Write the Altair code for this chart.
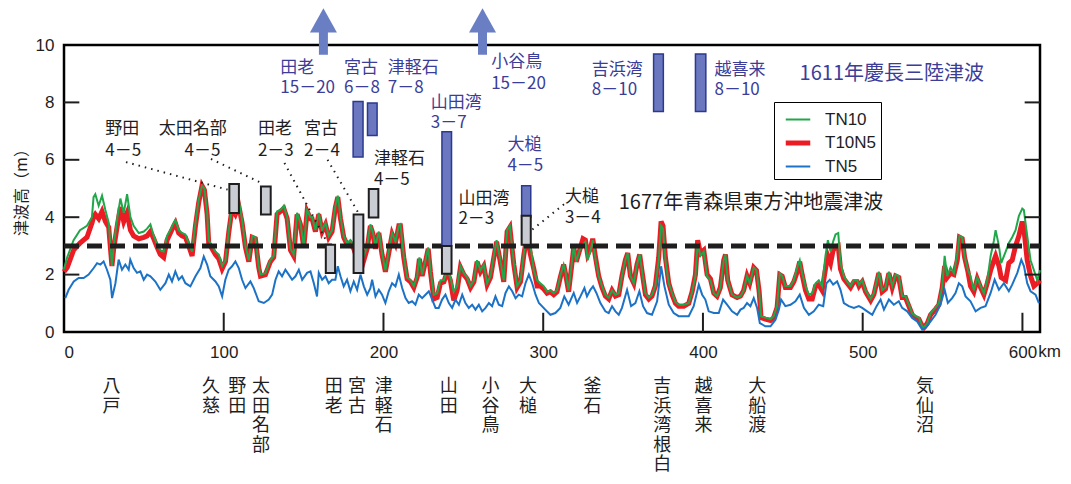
import altair as alt
import pandas as pd

# ---------------- data ----------------
km_grid = [0, 2, 6, 10, 14.4, 17.5, 18.5, 19.6, 21.7, 23.8, 25.9, 28, 30, 31.1, 33.2, 35.3, 37.4, 39.5, 41.6, 43.6,
           46.8, 50, 52, 54.1, 56.2, 58.3, 60.3, 62.4, 64.5, 66.6, 68.7, 69.7, 71.8, 73.9, 76, 78.1, 80.2, 82.3, 84.3, 86.4,
           87.9, 89.6, 90.6, 92.7, 94.8, 96.9, 99, 101.1, 103.2, 105.2, 107.3, 109.4, 111.5, 113.6, 115.7, 117.8, 119.8, 121.9, 123, 126.1,
           129.2, 131.3, 133.4, 135.5, 137.6, 139.7, 141.8, 143.8, 145.9, 148, 150.1, 152.2, 154.3,
           155.3, 157.4, 159.5, 161.6, 163.7, 165.7, 167.8, 169.9, 171.4, 173.1, 175.1, 177.2, 179.3, 181.4, 183.5,
           185.6, 187.7, 189.8, 191.8, 193.5, 195, 197.1, 199.1, 201.2, 203.3, 205.4, 207.5, 209.6, 210.6, 212.7,
           214.8, 216.9, 219, 221.1, 222.5, 224.2, 226.3, 228, 229.4, 231.5, 233.6, 235.7, 237.8, 239.9, 241.9,
           244, 246.1, 248.2, 250.3, 252.4, 254.5, 256.6, 258.6, 260.7, 262.8, 264.9, 267, 269.1, 270.8, 272.8,
           275.3, 277.4, 279.1, 281.6, 283.7, 285.8, 287.9, 290, 292, 294.1, 296.2,
           298.2, 300.3, 302.4, 304.5, 306.6, 308.6, 310.7, 312.8, 313.9, 315.9, 318, 319.1, 320.7, 322.8, 324.9,
           326.4, 327.8, 329.5, 331, 332.6, 334.7, 336.8, 338.9, 341, 343.1, 345.2, 347.3, 349.3, 351.4, 352.9,
           354.6, 356.7, 358.7, 360.4, 361.9, 364, 366.1, 368.1, 370.2, 372.3, 373.8, 375, 376.5, 378.6, 380.7,
           382.8, 384.8, 388, 391.1, 393.2, 395.3, 396.7, 398.4, 400.5, 402.6, 404.7, 406.8, 408.8, 410.9, 413,
           414.1, 415.5, 418.2, 421.4, 423.5, 425.5, 427.6, 429.3, 431.8, 433.5, 435.2, 436.4, 439.1, 442.3, 444.3,
           446.4, 448.1, 449.6, 451.6,
           454.8, 456.9, 459, 460.6, 462.1, 464.2, 466.3, 468.4, 470.5, 472.5, 474.6, 476.7, 478.2, 479.9, 481.5,
           483, 484.7, 486.1, 488.2, 490.3, 492.4, 494.5, 496.6, 497.7, 499.7, 501.8, 505, 507, 510.1, 512.2,
           514.3, 516.4, 518.5, 520.6, 522.6, 524.7, 526.8, 528.9, 531, 533.1, 535.2, 537.3, 538.3, 540.4, 542.5,
           545.6, 547.7, 549.8, 551.3, 552.9, 555, 557.1, 559.2, 560.6, 562.3, 563.8, 565.9, 567.5, 569.6, 571.7,
           573.8, 575.9, 578, 580.1, 582.2, 583.2, 585.3, 586.7, 589.5, 591.5, 593.6, 595.7, 597.8, 599.9, 600.9,
           603, 605.1, 607.2, 609.3, 611]

tn10 = [2.2, 2.6, 3.2, 3.55, 3.7, 4.0, 4.7, 4.8, 4.4, 4.75, 4.25, 3.8, 2.3, 3.0, 3.9, 4.65, 4.15, 4.8, 4.0, 3.7,
        3.45, 3.5, 3.6, 3.75, 3.35, 3.05, 2.85, 2.8, 3.35, 3.55, 3.8, 3.9, 3.55, 3.45, 3.4, 3.1, 2.8, 3.8, 4.6, 5.1,
        5.0, 4.15, 3.2, 3.0, 2.8, 2.7, 2.3, 2.5, 3.55, 4.4, 4.15, 4.6, 3.9, 3.0, 2.5, 3.35, 3.3, 2.3, 2.0, 2.05,
        2.5, 2.65, 4.2, 4.25, 4.4, 4.0, 2.9, 2.7, 4.15, 3.8, 3.0, 4.25, 4.0,
        4.0, 3.55, 4.15, 3.55, 3.8, 3.35, 3.55, 4.4, 4.75, 4.0, 3.35, 3.1, 3.2, 3.0, 2.65,
        3.0, 2.65, 3.0, 3.75, 3.45, 3.0, 3.5, 2.75, 2.15, 2.8, 3.45, 3.15, 3.7, 3.75, 2.65,
        1.9, 1.8, 1.6, 1.95, 2.6, 2.0, 2.5, 2.95, 2.15, 1.3, 1.35, 1.8, 1.8, 2.15, 1.9,
        1.4, 1.6, 2.3, 2.05, 1.9, 1.6, 1.8, 2.5, 2.15, 2.35, 1.7, 1.95, 2.65, 3.2, 2.6,
        1.8, 3.55, 3.7, 2.4, 1.6, 1.8, 2.75, 3.45, 3.0, 2.15, 1.8,
        1.7, 1.6, 1.4, 1.45, 1.35, 1.45, 1.95, 2.35, 2.1, 1.45, 2.45, 3.0, 2.45, 2.85, 3.05,
        3.15, 2.5, 2.8, 3.2, 2.6, 1.95, 1.6, 1.3, 1.2, 1.45, 1.3, 1.35, 1.95, 2.5, 2.75,
        1.95, 1.7, 2.35, 2.7, 2.1, 1.35, 1.2, 1.3, 1.6, 2.5, 3.7, 3.6, 2.5, 1.7, 1.35,
        1.05, 0.95, 0.95, 1.0, 1.4, 1.95, 3.1, 2.65, 2.8, 1.95, 1.8, 1.35, 1.25, 1.55, 2.5,
        2.7, 1.8, 1.3, 1.2, 1.25, 1.45, 1.95, 1.7, 2.25, 2.15, 1.4, 0.55, 0.5, 0.45, 0.55,
        0.9, 2.05, 1.95, 1.6,
        1.6, 1.8, 2.25, 2.5, 2.05, 1.6, 1.3, 1.35, 1.7, 1.8, 1.6, 2.65, 3.2, 2.8, 3.15,
        3.4, 3.45, 2.4, 1.95, 1.75, 1.6, 1.8, 1.8, 1.65, 1.8, 1.45, 1.15, 1.35, 2.1, 1.45,
        1.55, 2.1, 1.6, 2.0, 1.95, 1.25, 1.25, 0.95, 0.65, 0.55, 0.5, 0.2, 0.15, 0.3, 0.65,
        0.85, 1.0, 1.6, 2.65, 1.95, 2.25, 2.05, 2.7, 3.35, 3.3, 2.65, 2.15, 1.95, 1.45, 1.9,
        1.6, 1.35, 1.8, 2.65, 3.2, 3.55, 3.0, 2.4, 2.8, 3.1, 3.3, 3.55, 4.05, 4.3, 4.25,
        3.35, 2.5, 2.15, 1.8, 2.15]

t10n5 = [2.1, 2.25, 2.85, 3.1, 3.3, 3.8, 4.0, 4.1, 3.95, 4.2, 3.85, 3.65, 2.3, 2.9, 3.65, 4.35, 3.85, 4.15, 3.55, 3.35,
         3.25, 3.3, 3.35, 3.5, 3.25, 2.95, 2.7, 2.6, 3.2, 3.45, 3.7, 3.8, 3.45, 3.35, 3.3, 3.0, 2.65, 3.7, 4.5, 5.1,
         4.95, 4.1, 3.1, 2.9, 2.7, 2.55, 2.2, 2.45, 3.5, 4.3, 4.1, 4.4, 3.8, 2.95, 2.45, 3.3, 3.25, 2.25, 1.95, 2.0,
         2.45, 2.6, 4.1, 4.2, 4.3, 3.95, 2.85, 2.65, 4.1, 3.75, 2.95, 4.2, 3.95,
         3.95, 3.5, 4.1, 3.5, 3.75, 3.3, 3.5, 4.35, 4.7, 3.95, 3.3, 3.05, 3.1, 2.9, 2.55,
         2.9, 2.5, 2.9, 3.7, 3.4, 2.9, 3.45, 2.7, 2.1, 2.75, 3.4, 3.1, 3.7, 3.7, 2.6,
         1.85, 1.75, 1.55, 1.9, 2.55, 1.95, 2.45, 2.9, 2.1, 1.15, 1.2, 1.7, 1.75, 2.1, 1.8,
         1.1, 1.45, 2.25, 2.0, 1.85, 1.55, 1.75, 2.45, 2.1, 2.3, 1.65, 1.9, 2.6, 3.15, 2.55,
         1.75, 3.5, 3.65, 2.35, 1.55, 1.75, 2.7, 3.4, 2.7, 2.2, 1.6,
         1.6, 1.5, 1.35, 1.4, 1.3, 1.4, 1.9, 2.35, 2.05, 1.4, 2.4, 2.95, 2.45, 2.85, 3.25,
         3.2, 2.7, 2.9, 3.25, 2.65, 1.95, 1.55, 1.25, 1.15, 1.45, 1.25, 1.3, 1.95, 2.5, 2.75,
         1.95, 1.7, 2.35, 2.7, 2.1, 1.3, 1.15, 1.25, 1.6, 2.6, 3.85, 3.7, 2.6, 1.7, 1.3,
         1.0, 0.9, 0.9, 1.0, 1.4, 2.0, 3.2, 2.75, 2.85, 2.0, 1.85, 1.35, 1.25, 1.55, 2.5,
         2.7, 1.8, 1.3, 1.2, 1.25, 1.45, 1.95, 1.7, 2.25, 2.15, 1.4, 0.5, 0.45, 0.4, 0.5,
         0.85, 2.0, 1.95, 1.55,
         1.55, 1.75, 2.1, 2.45, 2.0, 1.45, 1.15, 1.15, 1.6, 1.65, 1.45, 2.2, 2.65, 2.4, 2.85,
         2.95, 3.0, 2.2, 1.85, 1.7, 1.55, 1.75, 1.75, 1.6, 1.75, 1.4, 1.1, 1.3, 2.05, 1.4,
         1.5, 2.05, 1.55, 1.95, 1.9, 1.2, 1.2, 0.9, 0.6, 0.5, 0.45, 0.2, 0.15, 0.3, 0.6,
         0.8, 0.95, 1.55, 2.3, 1.9, 2.05, 2.0, 2.5, 3.3, 3.25, 2.6, 2.1, 1.6, 1.4, 1.85,
         1.55, 1.3, 1.7, 2.15, 2.5, 2.65, 2.3, 1.9, 1.8, 2.4, 2.5, 3.0, 3.35, 3.85, 3.6,
         2.5, 1.95, 1.6, 1.7, 1.8]

tn5_points = [
    (0.8, 1.18), (2.9, 1.47), (6.1, 1.76), (9.2, 1.88), (12.3, 1.88), (15.4, 2.0), (18.6, 2.23), (20.7, 2.4),
    (22.8, 2.35), (24.8, 2.46), (26.9, 2.17), (29, 1.82), (30.1, 1.18), (32.2, 1.7), (34.2, 2.52), (36.3, 2.17),
    (38.4, 2.35), (40.5, 2.17), (41.5, 2.52), (43.6, 2.23), (45.7, 2.06), (47.8, 2.11), (49.9, 1.82), (52, 2.0),
    (54.1, 1.94), (57.2, 1.76), (60.3, 1.47), (63.5, 1.7), (65.6, 2.0), (67.6, 1.76), (69.7, 2.11), (71.8, 1.82),
    (73.9, 1.94), (76, 1.7), (79.1, 1.59), (82.3, 1.94), (85.4, 2.23), (87.5, 2.63), (89.6, 2.35), (91.6, 1.94),
    (94.8, 1.76), (96.9, 1.59), (99, 1.24), (101, 1.82), (103.1, 2.17), (105.2, 2.29), (107.3, 2.46), (109.4, 2.23),
    (111.5, 1.82), (113.6, 1.53), (116.7, 1.76), (118.8, 1.53), (121.9, 1.07), (125.1, 1.01), (128.2, 1.13),
    (130.3, 1.3), (132.4, 1.82), (134.4, 2.11), (136.5, 1.94), (138.6, 2.17), (140.7, 2.0), (142.8, 1.82),
    (144.9, 1.94), (147, 2.17), (149.1, 1.82), (152.2, 2.06), (154.3, 2.11),
    (156.4, 1.7), (158.4, 1.24), (159.5, 2.06), (161.6, 1.82), (163.7, 1.94), (165.7, 1.7), (167.8, 1.82),
    (169.9, 1.82), (171.4, 2.29), (173.1, 1.94), (175.1, 1.59), (177.2, 1.82), (179.3, 1.42), (181.4, 1.76),
    (183.5, 1.47), (185.6, 2.0), (187.7, 1.59), (189.8, 1.3), (191.8, 1.53), (192.9, 1.82), (195, 1.24),
    (197.1, 1.47), (199.1, 1.3), (201.2, 1.01), (203.3, 1.42), (205.4, 1.7), (207.5, 1.59), (209.6, 2.0),
    (211.7, 1.53), (213.8, 1.18), (215.8, 1.01), (217.9, 1.07), (220, 0.95), (222.1, 1.3), (224.2, 1.18),
    (226.3, 1.3), (228.4, 1.42), (230.5, 1.13), (232.6, 0.84), (234.6, 0.84), (236.7, 1.13), (238.8, 1.3),
    (240.9, 1.01), (243, 0.84), (245.1, 1.13), (247.2, 0.95), (249.3, 1.3), (251.3, 1.01), (253.4, 0.84),
    (255.5, 0.95), (257.6, 0.78), (259.7, 0.95), (261.8, 0.72), (263.9, 0.84), (266, 1.01), (268, 0.9),
    (270.1, 1.24), (272.2, 0.95), (274.3, 0.9), (276.4, 1.36), (278.5, 1.59), (280.6, 1.42), (282.7, 1.18),
    (284.7, 1.3), (286.8, 1.24), (288.9, 1.7), (291, 2.0), (293.1, 1.7), (295.2, 1.3), (297.3, 1.01),
    (301.3, 0.78), (304.5, 0.6), (307.6, 0.66), (310.7, 0.84), (313.2, 1.24), (315.9, 0.95), (319.1, 1.36),
    (321.2, 1.01), (323.3, 1.24), (325.8, 1.53), (327.4, 1.24), (329.5, 1.47), (331.2, 1.59), (333.3, 1.36),
    (335.8, 1.01), (338.9, 0.72), (341, 0.66), (343.1, 0.9), (345.2, 0.72), (347.3, 0.6), (349.3, 0.84),
    (352.5, 1.47), (355, 0.9), (357.7, 1.01), (360.2, 1.42), (362.5, 0.9), (365, 0.66), (368.1, 0.6),
    (371.3, 1.07), (373.8, 2.29), (375.9, 1.59), (378.6, 0.95), (381.7, 0.66), (384.8, 0.55), (388, 0.55),
    (391.1, 0.55), (394.2, 0.9), (397.4, 1.65), (399.5, 1.3), (401.5, 1.13), (403.6, 0.72), (406.8, 0.66),
    (409.9, 0.66), (412.6, 1.13), (415.1, 0.95), (418.2, 0.72), (421.4, 0.6), (423.5, 0.78), (425.5, 0.84),
    (427.6, 1.01), (429.7, 0.9), (431.8, 1.18), (433.9, 0.84), (435.6, 0.31), (439.1, 0.2), (442.3, 0.2),
    (445.4, 0.43), (447.5, 0.78), (448.9, 1.13), (451.6, 0.9),
    (454.8, 0.95), (457.9, 1.07), (460.6, 1.3), (463.2, 0.84), (466.3, 0.6), (469.4, 0.72), (472.5, 0.95),
    (475.3, 0.9), (477.3, 1.7), (479.4, 1.82), (481.5, 1.65), (484, 1.76), (486.1, 1.47), (488.2, 1.01),
    (491.3, 0.9), (494.5, 0.84), (497.6, 0.9), (499.7, 0.84), (502.8, 0.72), (506, 0.6), (508.7, 0.9),
    (511.2, 1.13), (513.3, 0.78), (516.4, 1.13), (519.5, 0.95), (522.6, 1.07), (524.7, 0.84), (527.9, 0.72),
    (531, 0.49), (534.1, 0.37), (537.3, 0.08), (539.4, 0.14), (542.5, 0.37), (545.6, 0.6), (548.7, 0.95),
    (551.3, 1.47), (553.3, 1.01), (556, 1.18), (558.1, 1.36), (560.2, 1.7), (562.3, 1.59), (564.4, 1.24),
    (567.5, 1.07), (570.7, 0.72), (573.8, 0.84), (576.9, 0.9), (580.1, 1.36), (582.6, 1.82), (585.3, 1.47),
    (588.4, 1.7), (591.5, 1.42), (593.6, 1.65), (596.8, 2.06), (599.3, 2.52), (601, 2.29), (603, 1.7),
    (605.1, 1.42), (608.2, 1.3), (610.3, 1.01)]

series_names = ["TN10", "T10N5", "TN5"]
series_colors = ["#1fa74a", "#ec1c24", "#1b72c6"]
series_widths = [2, 5, 2]

# 1611 Keicho tsunami observations (blue bars): km range, height range
b1611_km0 = [181.0, 190.0, 236.6, 286.5, 369.1, 395.3]
b1611_km1 = [187.2, 196.0, 242.6, 292.2, 375.2, 401.8]
b1611_lo = [6.1, 6.85, 3.0, 4.0, 7.68, 7.68]
b1611_hi = [8.03, 7.98, 6.98, 5.1, 9.69, 9.69]

# 1677 tsunami observations (grey bars)
b1677_km0 = [103.5, 123.3, 163.9, 181.3, 190.8, 236.6, 286.5]
b1677_km1 = [109.5, 129.4, 169.7, 187.4, 196.8, 242.6, 292.2]
b1677_lo = [4.15, 4.09, 2.06, 2.06, 3.99, 2.03, 3.04]
b1677_hi = [5.16, 5.07, 3.04, 4.09, 4.98, 3.0, 4.05]

# arrows (> 10 m) for 田老 and 小谷鳥
arrow_km = [162.4, 262.0]

# dotted leader lines: (km from, m from, km to, m to)
leaders = [(38.8, 5.92, 102.4, 4.96), (92.0, 6.03, 122.9, 5.21), (138.0, 5.89, 165.0, 3.1),
           (165.0, 6.0, 184.3, 4.15), (313.0, 4.45, 293.0, 3.56)]

labels_1611 = [("田老", 135.4, 9.2), ("15－20", 135.4, 8.51), ("宮古", 175.3, 9.2), ("6－8", 175.3, 8.51),
               ("津軽石", 202.7, 9.2), ("7－8", 202.7, 8.51), ("小谷鳥", 267.4, 9.4), ("15－20", 267.4, 8.65),
               ("山田湾", 229.6, 7.98), ("3－7", 229.6, 7.28), ("大槌", 277.6, 6.53), ("4－5", 277.6, 5.77),
               ("吉浜湾", 330.4, 9.14), ("8－10", 330.4, 8.44), ("越喜来", 407.2, 9.14), ("8－10", 407.2, 8.44)]
labels_1677 = [("野田", 25.9, 7.07), ("4－5", 25.9, 6.29), ("太田名部", 59.3, 7.07), ("4－5", 75.5, 6.29),
               ("田老", 121.4, 7.07), ("2－3", 121.4, 6.29), ("宮古", 150.3, 7.07), ("2－4", 150.3, 6.29),
               ("津軽石", 194.0, 6.03), ("4－5", 194.0, 5.31), ("山田湾", 246.9, 4.64), ("2－3", 246.9, 3.95),
               ("大槌", 313.6, 4.72), ("3－4", 313.6, 3.97)]
event_1611 = ("1611年慶長三陸津波", 460.5, 9.0)
event_1677 = ("1677年青森県東方沖地震津波", 347.3, 4.49)

places = ["八戸", "久慈", "野田", "太田名部", "田老", "宮古", "津軽石", "山田", "小谷鳥", "大槌",
          "釜石", "吉浜湾根白", "越喜来", "大船渡", "気仙沼"]
place_km = [29.7, 92.0, 108.5, 123.3, 168.8, 183.5, 200.1, 240.8, 267.0, 290.4,
            330.9, 374.5, 400.4, 434.0, 539.0]

x_ticks = [0, 100, 200, 300, 400, 500, 600]
y_ticks = [0, 2, 4, 6, 8, 10]
threshold = 3.0
x_max = 611

# ---------------- build tables ----------------
lines_df = pd.concat([
    pd.DataFrame({"km": km_grid, "m": t10n5, "series": "T10N5"}),
    pd.DataFrame({"km": km_grid, "m": tn10, "series": "TN10"}),
    pd.DataFrame({"km": [p[0] for p in tn5_points], "m": [p[1] for p in tn5_points], "series": "TN5"}),
])

JP = "Noto Sans CJK JP"
NUM = "Liberation Sans Narrow, Liberation Sans, Arial, sans-serif"
BLUE_TXT = "#3b3d99"
BLACK = "#1e1e1e"

xs = alt.Scale(domain=[0, x_max], nice=False, zero=False)
ys = alt.Scale(domain=[0, 10], nice=False, zero=True)

legend = alt.Legend(orient="none", legendX=710, legendY=57, title=None, strokeColor="black", fillColor="white",
                    padding=4, rowPadding=0, symbolType="stroke", symbolSize=600, symbolOffset=5,
                    labelOffset=12, labelFont="Liberation Sans", labelFontSize=17, labelColor=BLACK)
color_enc = alt.Color("series:N", scale=alt.Scale(domain=series_names, range=series_colors), legend=legend)
width_enc = alt.StrokeWidth("series:N", scale=alt.Scale(type="ordinal", domain=series_names, range=series_widths),
                            legend=legend)

x_axis = alt.Axis(values=x_ticks, title=None, labelPadding=12, labelFont=NUM, labelFontSize=17,
                  labelColor=BLACK, ticks=False, domain=False, grid=False)
y_axis = alt.Axis(values=y_ticks, title="津波高（m）", labelPadding=10, labelFont=NUM, labelFontSize=17,
                  labelColor=BLACK, ticks=False, domain=False, grid=False, titleFont=JP, titleFontSize=16,
                  titleFontWeight="normal", titleColor=BLACK, titleX=-43, titleY=143, titleBaseline="middle",
                  titleAlign="center", titleAngle=270)

X = alt.X("km:Q", scale=xs, axis=x_axis)
Y = alt.Y("m:Q", scale=ys, axis=y_axis)


def line_layer(name):
    return alt.Chart(lines_df[lines_df.series == name]).mark_line().encode(
        x=X, y=Y, color=color_enc, strokeWidth=width_enc)


red = line_layer("T10N5")
green = line_layer("TN10")
blue = line_layer("TN5")

dash_df = pd.DataFrame({"km": [0], "km2": [x_max], "m": [threshold]})
dashed = alt.Chart(dash_df).mark_rule(color=BLACK, strokeWidth=5, strokeDash=[15, 8]).encode(
    x=X, x2="km2:Q", y=Y)

# inner tick marks
tick_len_x = 0.67   # m
tick_len_y = 9.6    # km
xt_df = pd.DataFrame({"km": x_ticks[1:], "m": [0] * 6, "m2": [tick_len_x] * 6})
xticks = alt.Chart(xt_df).mark_rule(color=BLACK, strokeWidth=2).encode(x=X, y=Y, y2="m2:Q")
yt_df = pd.DataFrame({"km": [0] * 4 + [x_max - tick_len_y] * 4,
                      "km2": [tick_len_y] * 4 + [x_max] * 4,
                      "m": y_ticks[1:5] * 2})
yticks = alt.Chart(yt_df).mark_rule(color=BLACK, strokeWidth=2).encode(x=X, x2="km2:Q", y=Y)

leader_df = pd.DataFrame(leaders, columns=["km", "m", "km2", "m2"])
leader_lines = alt.Chart(leader_df).mark_rule(color=BLACK, strokeWidth=2, strokeDash=[1.5, 5]).encode(
    x=X, y=Y, x2="km2:Q", y2="m2:Q")

b1611_df = pd.DataFrame({"km": b1611_km0, "km2": b1611_km1, "m": b1611_lo, "m2": b1611_hi})
bars1611 = alt.Chart(b1611_df).mark_rect(fill="#6b78bf", stroke="#2b3990", strokeWidth=1.5).encode(
    x=X, x2="km2:Q", y=Y, y2="m2:Q")
b1677_df = pd.DataFrame({"km": b1677_km0, "km2": b1677_km1, "m": b1677_lo, "m2": b1677_hi})
bars1677 = alt.Chart(b1677_df).mark_rect(fill="#c9ccd3", stroke=BLACK, strokeWidth=2).encode(
    x=X, x2="km2:Q", y=Y, y2="m2:Q")

ARROW = "#6a7ec4"
arrow_df = pd.DataFrame({"km": arrow_km, "m": [9.66] * 2, "m2": [10.5] * 2, "tip": [10.86] * 2})
shafts = alt.Chart(arrow_df).mark_rule(color=ARROW, strokeWidth=9).encode(x=X, y=Y, y2="m2:Q")
heads = alt.Chart(arrow_df).mark_point(shape="M-1,0.9L1,0.9L0,-0.9Z", filled=True, fill=ARROW, opacity=1,
                                       size=729, strokeWidth=0).encode(
    x=X, y=alt.Y("tip:Q", scale=ys, axis=y_axis))

t1611_df = pd.DataFrame(labels_1611, columns=["text", "km", "m"])
txt1611 = alt.Chart(t1611_df).mark_text(font=JP, fontSize=17, color=BLUE_TXT, align="left",
                                        baseline="middle").encode(x=X, y=Y, text="text:N")
t1677_df = pd.DataFrame(labels_1677, columns=["text", "km", "m"])
txt1677 = alt.Chart(t1677_df).mark_text(font=JP, fontSize=17, color=BLACK, align="left",
                                        baseline="middle").encode(x=X, y=Y, text="text:N")
ev1_df = pd.DataFrame([event_1611], columns=["text", "km", "m"])
ev1 = alt.Chart(ev1_df).mark_text(font=JP, fontSize=20, color=BLUE_TXT, align="left",
                                  baseline="middle").encode(x=X, y=Y, text="text:N")
ev2_df = pd.DataFrame([event_1677], columns=["text", "km", "m"])
ev2 = alt.Chart(ev2_df).mark_text(font=JP, fontSize=20, color=BLACK, align="left",
                                  baseline="middle").encode(x=X, y=Y, text="text:N")

place_df = pd.DataFrame({"km": place_km, "text": ["\n".join(p) for p in places]})
place_txt = alt.Chart(place_df).mark_text(font=JP, fontSize=18, color=BLACK, align="center", baseline="top",
                                          lineBreak="\n", lineHeight=19.5).encode(
    x=X, y=alt.value(333), text="text:N")

km_df = pd.DataFrame({"km": [617.0], "text": ["km"]})
km_txt = alt.Chart(km_df).mark_text(font=NUM, fontSize=17, color=BLACK, align="center", baseline="top").encode(
    x=X, y=alt.value(299), text="text:N")

chart = alt.layer(
    red, green, blue, dashed, xticks, yticks, leader_lines, bars1611, bars1677, shafts, heads,
    txt1611, txt1677, ev1, ev2, place_txt, km_txt
).properties(
    width=976, height=287,
    padding={"left": 56, "top": 37, "right": 23, "bottom": 144},
    autosize=alt.AutoSizeParams(type="none"),
    background="white",
).configure_view(stroke="black", strokeWidth=2.5)

chart.save("out.html", embed_options={"renderer": "svg", "actions": False})
